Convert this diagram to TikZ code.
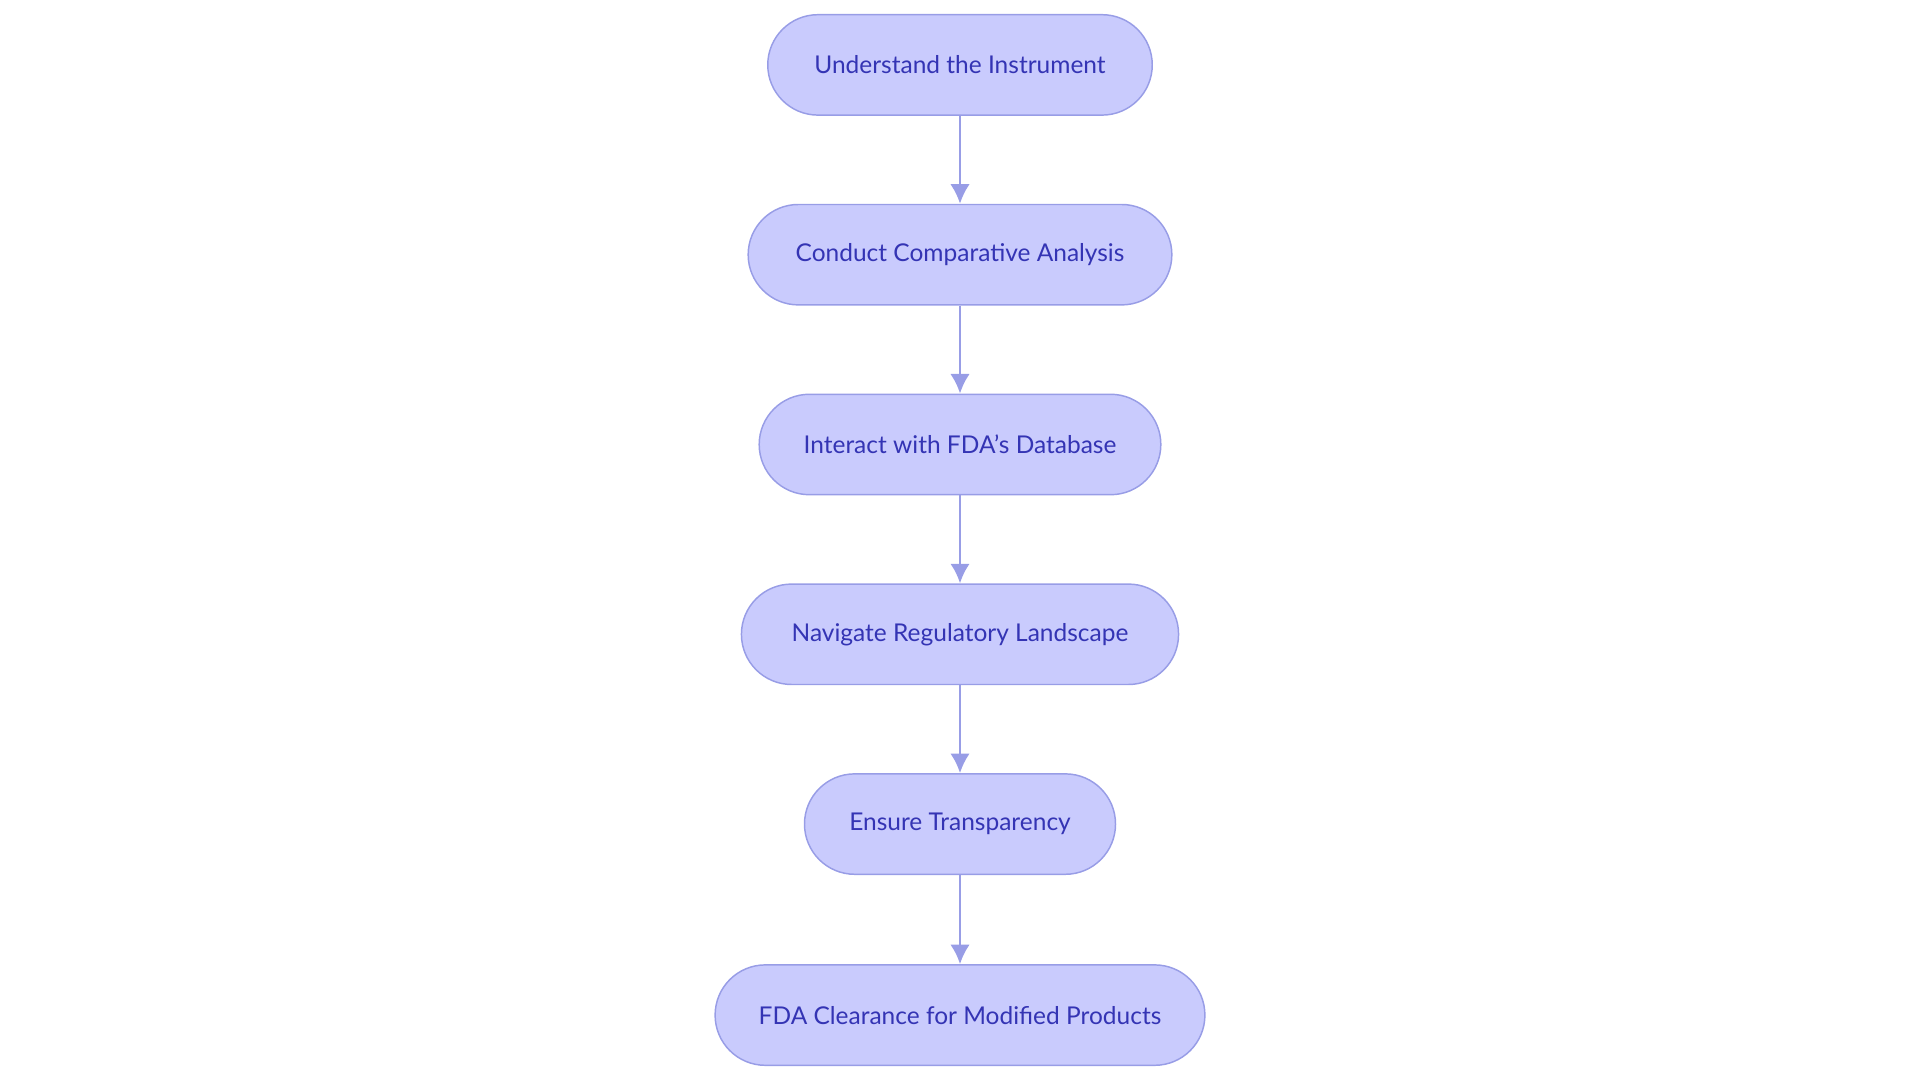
\documentclass[tikz,border=0pt]{standalone}
\usepackage{fontspec}
\usetikzlibrary{arrows.meta}
\setmainfont{Lato}
\definecolor{nfill}{HTML}{C9CBFD}
\definecolor{nedge}{HTML}{989DE6}
\definecolor{ntext}{HTML}{3434B4}
\begin{document}
\begin{tikzpicture}[x=1pt,y=-1pt,
  stepbox/.style={draw=nedge,fill=nfill,line width=1.2pt,rounded corners=41pt,minimum height=82pt,text=ntext,font=\fontsize{20}{24}\selectfont,inner sep=0pt},
  conn/.style={draw=nedge,line width=2.2pt,-{Latex[length=16pt,width=16pt]}}]
\useasboundingbox (0,0) rectangle (1568,882);
\node[stepbox,minimum width=314pt] (a) at (784,53) {Understand the Instrument};
\node[stepbox,minimum width=346pt] (b) at (784,208) {Conduct Comparative Analysis};
\node[stepbox,minimum width=328pt] (c) at (784,363) {Interact with FDA's Database};
\node[stepbox,minimum width=357pt] (d) at (784,518) {Navigate Regulatory Landscape};
\node[stepbox,minimum width=254pt] (e) at (784,673) {Ensure Transparency};
\node[stepbox,minimum width=400pt] (f) at (784,829) {FDA Clearance for Modified Products};
\draw[conn] (a) -- (b);
\draw[conn] (b) -- (c);
\draw[conn] (c) -- (d);
\draw[conn] (d) -- (e);
\draw[conn] (e) -- (f);
\end{tikzpicture}
\end{document}
